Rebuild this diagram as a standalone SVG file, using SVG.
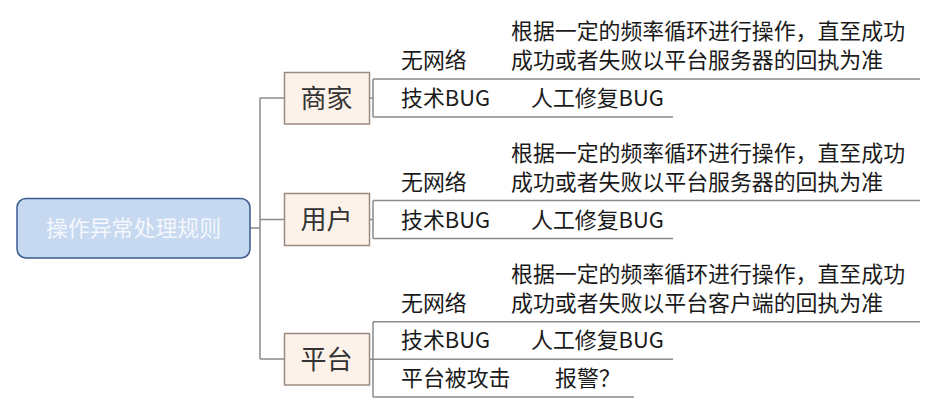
<svg xmlns="http://www.w3.org/2000/svg" width="936" height="413" viewBox="0 0 936 413">
<style>
.ln{stroke:#8a8a8a;stroke-width:1.5;fill:none}
.box{fill:#fdf2e9;stroke:#9a8a80;stroke-width:1.5}
.t{font-family:"Noto Sans CJK SC","Microsoft YaHei",sans-serif;font-size:21.9px;fill:#1a1a1a}
.bt{font-family:"Noto Sans CJK SC",sans-serif;font-size:26px;fill:#333;text-anchor:middle}
.rt{font-family:"Noto Sans CJK SC",sans-serif;font-size:21.9px;fill:#f4f7fc;text-anchor:middle}
</style>
<rect width="936" height="413" fill="#ffffff"/>
<g id="connectors">
<path class="ln" d="M250 228H260M260 98V359M260 98H284M260 219.5H284M260 359H284"/>
<path class="ln" d="M369 98H373M373 79V117M373 79H920M373 117H673"/>
<path class="ln" d="M369 219.5H373M373 200.5V238.5M373 200.5H920M373 238.5H673"/>
<path class="ln" d="M373 321.7V397M373 321.7H920M369 359.3H673M373 397H634"/>
</g>
<g id="root">
<rect x="17" y="198.5" width="233" height="59.5" rx="9" fill="#c6d9f1" stroke="#3e5a8e" stroke-width="1.5"/>
<text class="rt" x="133.5" y="236">操作异常处理规则</text>
</g>
<g id="shangjia">
<rect class="box" x="284.5" y="72.5" width="85" height="51.5"/>
<text class="bt" x="326.5" y="107.5">商家</text>
</g>
<g id="shangjia-children">
<text class="t" x="401" y="68">无网络</text>
<text class="t" x="511" y="39">根据一定的频率循环进行操作，直至成功</text>
<text class="t" x="511" y="68">成功或者失败以平台服务器的回执为准</text>
<text class="t" x="401" y="106">技术BUG</text>
<text class="t" x="531" y="106">人工修复BUG</text>
</g>
<g id="yonghu">
<rect class="box" x="284.5" y="193.5" width="85" height="52"/>
<text class="bt" x="326.5" y="229">用户</text>
</g>
<g id="yonghu-children">
<text class="t" x="401" y="189.5">无网络</text>
<text class="t" x="511" y="160.5">根据一定的频率循环进行操作，直至成功</text>
<text class="t" x="511" y="189.5">成功或者失败以平台服务器的回执为准</text>
<text class="t" x="401" y="227.5">技术BUG</text>
<text class="t" x="531" y="227.5">人工修复BUG</text>
</g>
<g id="pingtai">
<rect class="box" x="284.5" y="333.5" width="85" height="51.5"/>
<text class="bt" x="326.5" y="368.5">平台</text>
</g>
<g id="pingtai-children">
<text class="t" x="401" y="310.5">无网络</text>
<text class="t" x="511" y="281.5">根据一定的频率循环进行操作，直至成功</text>
<text class="t" x="511" y="310.5">成功或者失败以平台客户端的回执为准</text>
<text class="t" x="401" y="348">技术BUG</text>
<text class="t" x="531" y="348">人工修复BUG</text>
<text class="t" x="401" y="386">平台被攻击</text>
<text class="t" x="555" y="386">报警？</text>
</g>
</svg>
